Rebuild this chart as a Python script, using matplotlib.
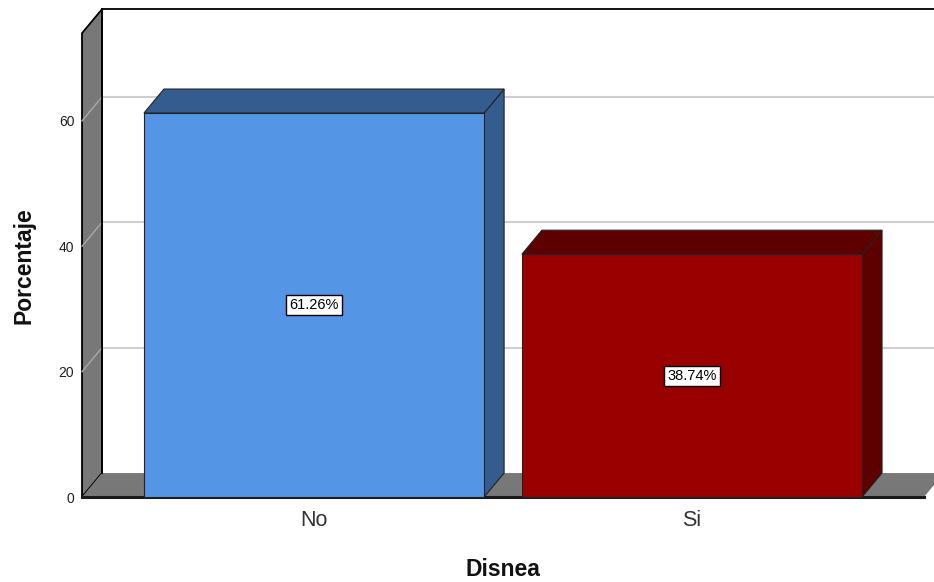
import matplotlib.pyplot as plt
from matplotlib.patches import Polygon

plt.rcParams['font.family'] = ['Liberation Sans', 'DejaVu Sans']

# Disnea frequency, percent of cases
categorias = ['No', 'Si']
porcentajes = [61.26, 38.74]
etiquetas = ['61.26%', '38.74%']
colores_frente = ['#5595e5', '#990000']
colores_lado = ['#345c8f', '#5e0000']
yticks = [0, 20, 40, 60]

X0, X1 = -0.614, 1.614
YMAX = 74
ANCHO = 0.9

fig = plt.figure(figsize=(9.34, 5.82), dpi=100)
ax = fig.add_axes([0.0878, 0.146, 0.9015, 0.797])
ax.set_xlim(X0, X1)
ax.set_ylim(0, YMAX)

# depth offset of the fake 3D box, in data units (20 px right, 24 px up)
ax_w = 0.9015 * 934
ax_h = 0.797 * 582
DX = 20 / (ax_w / (X1 - X0))
DY = 24 / (ax_h / YMAX)

gris = '#787878'


def poly(pts, fc, ec='none', lw=0, z=1):
    p = Polygon(pts, closed=True, facecolor=fc, edgecolor=ec, linewidth=lw,
                zorder=z, clip_on=False, joinstyle='miter')
    ax.add_patch(p)


# back wall with grid lines
xr = X1 + 2 * DX
for v in yticks[1:]:
    ax.plot([X0 + DX, xr], [v + DY, v + DY], color='#cfcfcf', lw=1.5,
            zorder=1, clip_on=False)
ax.plot([X0 + DX, xr], [YMAX + DY, YMAX + DY], color='black', lw=1.3,
        zorder=2, clip_on=False)

# left wall
poly([(X0, 0), (X0 + DX, DY), (X0 + DX, YMAX + DY), (X0, YMAX)],
     gris, 'black', 1.3, z=3)
for v in yticks[1:]:
    ax.plot([X0, X0 + DX], [v, v + DY], color='#a8a8a8', lw=1.0,
            zorder=4, clip_on=False)

# floor
poly([(X0, 0), (X1, 0), (X1 + DX, DY), (X0 + DX, DY)], gris, 'none', 0, z=4)
ax.plot([X0 + DX, X0 + DX], [DY, YMAX + DY], color='black', lw=1.3,
        zorder=5, clip_on=False)
ax.plot([X0, X1], [0, 0], color='#1a1a1a', lw=2.2, zorder=6,
        clip_on=False)

# bars: front, right side and top faces
for i, v in enumerate(porcentajes):
    l, r = i - ANCHO / 2, i + ANCHO / 2
    poly([(r, 0), (r + DX, DY), (r + DX, v + DY), (r, v)],
         colores_lado[i], '#222222', 0.8, z=7)
    poly([(l, v), (r, v), (r + DX, v + DY), (l + DX, v + DY)],
         colores_lado[i], '#222222', 0.8, z=7)
    poly([(l, 0), (r, 0), (r, v), (l, v)],
         colores_frente[i], '#222222', 0.8, z=8)
    ax.text(i, v / 2, etiquetas[i], ha='center', va='center', fontsize=10.5,
            zorder=9, bbox=dict(boxstyle='square,pad=0.2', fc='white',
                                ec='black', lw=1))

for s in ax.spines.values():
    s.set_visible(False)
ax.set_yticks(yticks)
ax.set_xticks(range(len(categorias)))
ax.set_xticklabels(categorias, fontsize=15.5, color='#333333')
ax.tick_params(axis='y', length=0, pad=5.5, labelsize=10, labelcolor='#222222')
ax.tick_params(axis='x', length=0, pad=9)

fig.text(24 / 934, 1 - 266 / 582, 'Porcentaje', rotation=90, ha='center',
         va='center', fontsize=16.5, fontweight='bold', color='#111111')
fig.text(503 / 934, 1 - 569 / 582, 'Disnea', ha='center', va='center',
         fontsize=16.5, fontweight='bold', color='#111111')

fig.savefig('out.png', dpi=100)
